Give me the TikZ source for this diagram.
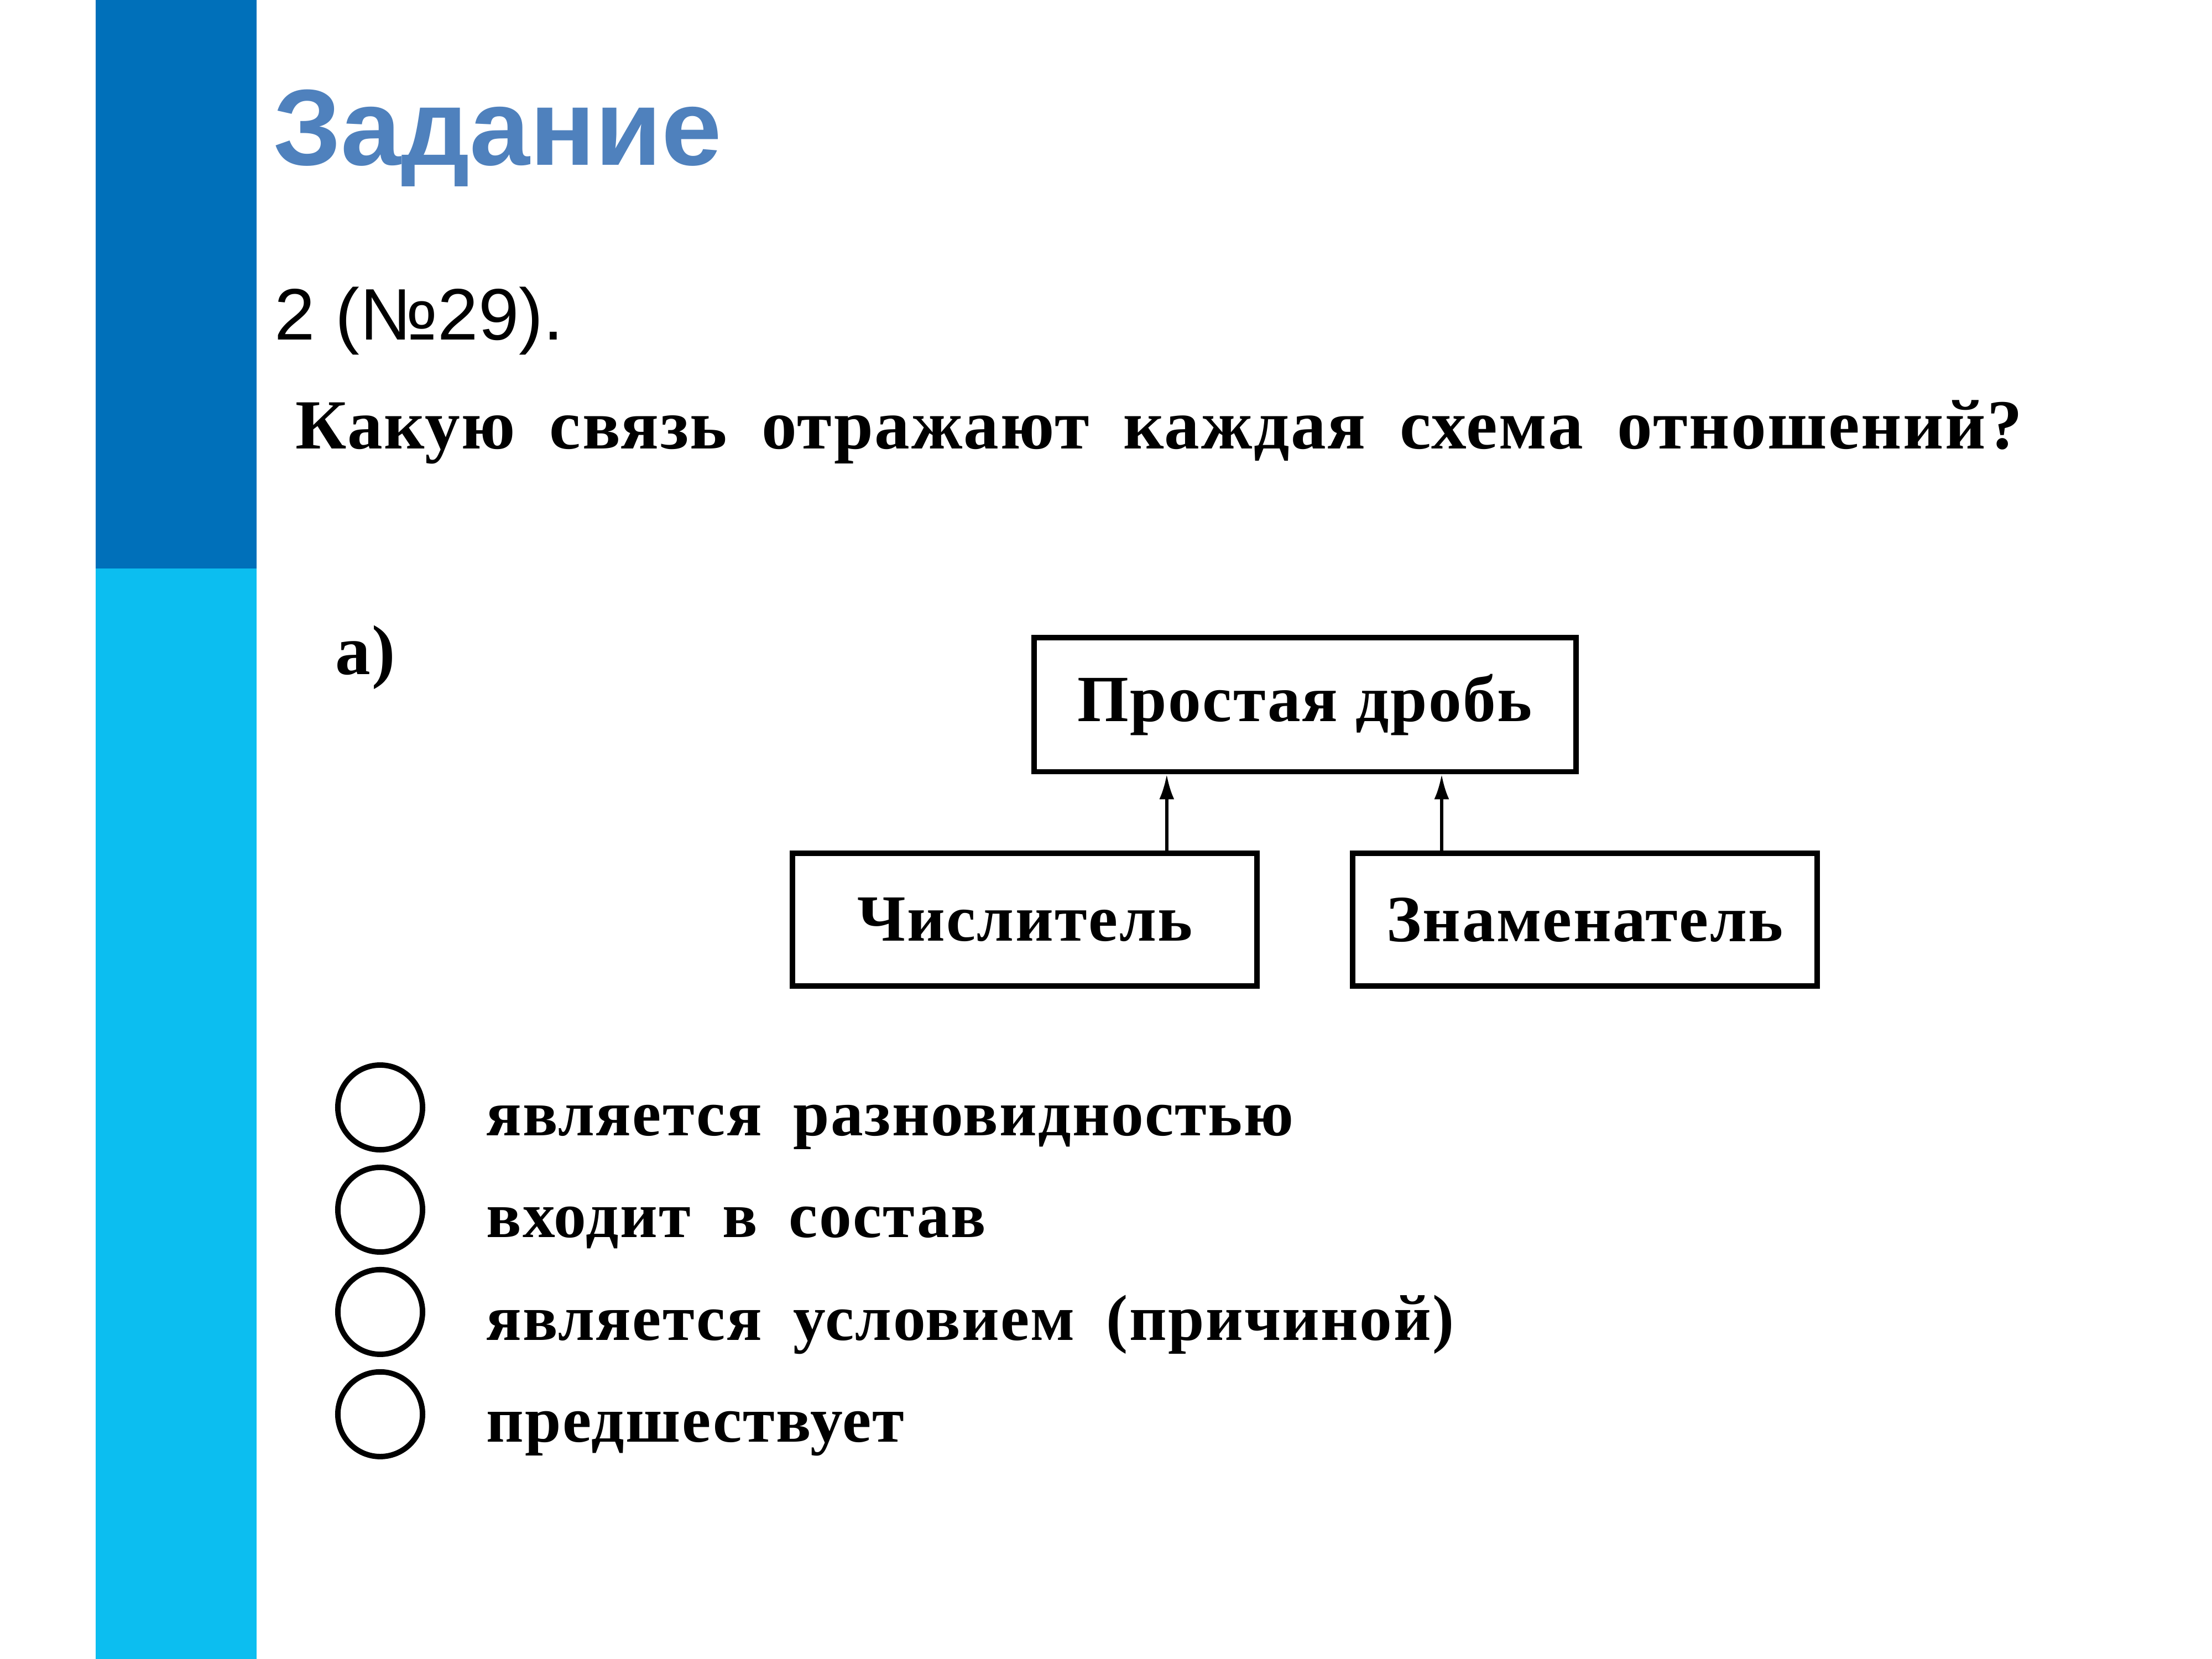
\documentclass[tikz,border=0pt]{standalone}
\usepackage{fontspec}
\setmainfont{Liberation Serif}
\newfontfamily\headfont{Liberation Sans}
\newfontfamily\bookfont{Liberation Serif}[LetterSpace=2.0,WordSpace=1.8]
\newfontfamily\boxfont{Liberation Serif}[LetterSpace=2.1]
\usetikzlibrary{arrows.meta}
\tikzset{>={Latex[length=5pt,width=3pt]}}
\definecolor{darkbar}{RGB}{0,112,186}
\definecolor{lightbar}{RGB}{12,190,240}
\definecolor{titleblue}{RGB}{79,129,189}

\begin{document}
\begin{tikzpicture}[x=0.01cm,y=-0.01cm]
\useasboundingbox (0,0) rectangle (1568,1176);
\fill[white] (0,0) rectangle (1568,1176);
% side bar
\fill[darkbar] (68,0) rectangle (182,403);
\fill[lightbar] (68,403) rectangle (182,1176);

% heading
\node[anchor=base west,inner sep=0pt,text=titleblue,font=\headfont\bfseries\fontsize{21.8}{26}\selectfont] (title) at (193,117) {Задание};
\node[anchor=base west,inner sep=0pt,font=\headfont\fontsize{14.7}{17}\selectfont] (num) at (194,241) {2 (№29).};
\node[anchor=base west,inner sep=0pt,font=\bookfont\bfseries\fontsize{14.2}{17}\selectfont] (quest) at (209,318) {Какую связь отражают каждая схема отношений?};
\node[anchor=base west,inner sep=0pt,font=\bookfont\bfseries\fontsize{14.2}{17}\selectfont] (part) at (237,478) {а)};

\begin{scope}[every node/.style={draw,line width=1.1pt,inner sep=0pt,font=\boxfont\bfseries\fontsize{13.3}{15}\selectfont}]
\node[minimum width=3.84cm,minimum height=0.95cm] (drob) at (925,499.5) {Простая дробь};
\node[minimum width=3.29cm,minimum height=0.94cm] (chisl) at (726.5,652) {Числитель};
\node[minimum width=3.29cm,minimum height=0.94cm] (znam) at (1123.5,652) {Знаменатель};
\end{scope}

\begin{scope}[line width=0.6pt]
    \draw [->] ([xshift=1.005cm]chisl.north) -- ([xshift=1.005cm]chisl.north |- drob.south);
    \draw [->] ([xshift=-1.015cm]znam.north) -- ([xshift=-1.015cm]znam.north |- drob.south);
\end{scope}

% answers
\begin{scope}[every node/.style={circle,draw,line width=1.1pt,minimum size=0.6cm,inner sep=0pt}]
\node (c1) at (269.5,785) {};
\node (c2) at (269.5,857.5) {};
\node (c3) at (269.5,930) {};
\node (c4) at (269.5,1002.5) {};
\end{scope}
\begin{scope}[every node/.style={anchor=base west,inner sep=0pt,font=\bookfont\bfseries\fontsize{13.1}{16}\selectfont}]
\node (a1) at (344,805) {является разновидностью};
\node (a2) at (344,877) {входит в состав};
\node (a3) at (344,950) {является условием (причиной)};
\node (a4) at (344,1022) {предшествует};
\end{scope}
\end{tikzpicture}
\end{document}
